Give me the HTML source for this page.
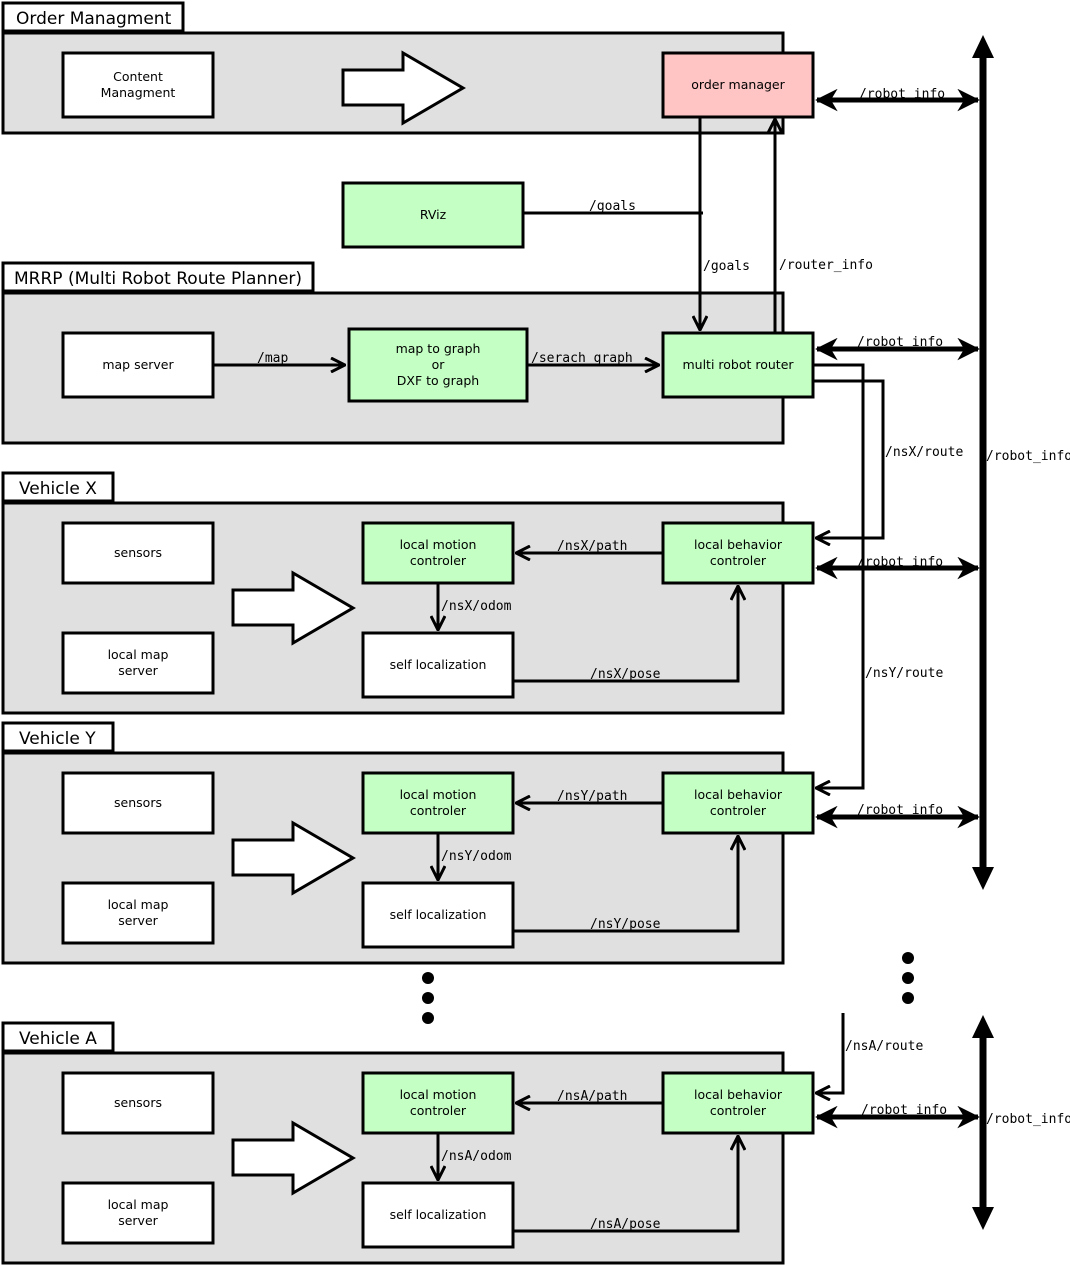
<!DOCTYPE html>
<html><head><style>body{margin:0;background:#fff}svg{display:block}
.n{font-family:"DejaVu Sans","Liberation Sans",sans-serif;font-size:12.5px;fill:#000}
.g{font-family:"DejaVu Sans","Liberation Sans",sans-serif;font-size:17px;fill:#000}
.m{font-family:"DejaVu Sans Mono","Liberation Mono",monospace;font-size:13px;fill:#000}
</style></head><body>
<svg width="1070" height="1266" viewBox="0 0 1070 1266" xmlns="http://www.w3.org/2000/svg">
<defs>
<marker id="a" viewBox="0 0 16 16" refX="15" refY="8" markerWidth="16" markerHeight="16" markerUnits="userSpaceOnUse" orient="auto-start-reverse"><path d="M1,1 L15,8 L1,15" fill="none" stroke="#000" stroke-width="3"/></marker>
<marker id="b" viewBox="0 0 6 6" refX="5.5" refY="3" markerWidth="4.5" markerHeight="4.5" orient="auto-start-reverse"><path d="M0,0 L6,3 L0,6 L1.8,3 Z" fill="#000"/></marker>
</defs>
<g stroke="#000" stroke-width="3">
<rect x="3" y="3" width="180" height="28" fill="#fff"/>
<rect x="3" y="33" width="780" height="100" fill="#e0e0e0"/>
<rect x="63" y="53" width="150" height="64" fill="#fff"/>
<polygon points="343,70 403,70 403,53 463,88 403,123 403,105 343,105" fill="#fff"/>
<rect x="663" y="53" width="150" height="64" fill="#ffc4c4"/>
<rect x="343" y="183" width="180" height="64" fill="#c4ffc4"/>
<rect x="3" y="263" width="310" height="28" fill="#fff"/>
<rect x="3" y="293" width="780" height="150" fill="#e0e0e0"/>
<rect x="63" y="333" width="150" height="64" fill="#fff"/>
<rect x="349" y="329" width="178" height="72" fill="#c4ffc4"/>
<rect x="663" y="333" width="150" height="64" fill="#c4ffc4"/>
</g>
<g stroke="#000" stroke-width="3" fill="none">
<line x1="700" y1="117" x2="700" y2="330" marker-end="url(#a)"/>
<line x1="523" y1="213" x2="703" y2="213"/>
<line x1="775" y1="333" x2="775" y2="119" marker-end="url(#a)"/>
<line x1="213" y1="365" x2="345" y2="365" marker-end="url(#a)"/>
<line x1="527" y1="365" x2="659" y2="365" marker-end="url(#a)"/>
<polyline points="813,381 883,381 883,538 816,538" marker-end="url(#a)"/>
<polyline points="813,365 863,365 863,788 816,788" marker-end="url(#a)"/>
<polyline points="843,1013 843,1093 816,1093" marker-end="url(#a)"/>
</g>
<g stroke="#000" stroke-width="5" fill="none">
<line x1="817" y1="100" x2="978" y2="100" marker-start="url(#b)" marker-end="url(#b)"/>
<line x1="817" y1="349" x2="978" y2="349" marker-start="url(#b)" marker-end="url(#b)"/>
<line x1="817" y1="568" x2="978" y2="568" marker-start="url(#b)" marker-end="url(#b)"/>
<line x1="817" y1="817" x2="978" y2="817" marker-start="url(#b)" marker-end="url(#b)"/>
<line x1="817" y1="1117" x2="978" y2="1117" marker-start="url(#b)" marker-end="url(#b)"/>
</g>
<g stroke="#000" stroke-width="7">
<line x1="983" y1="55" x2="983" y2="870"/>
<line x1="983" y1="1035" x2="983" y2="1210"/>
</g>
<g fill="#000">
<polygon points="983,35 972,58 994,58"/><polygon points="983,890 972,867 994,867"/>
<polygon points="983,1015 972,1038 994,1038"/><polygon points="983,1230 972,1207 994,1207"/>
<circle cx="428" cy="978" r="6"/><circle cx="428" cy="998" r="6"/><circle cx="428" cy="1018" r="6"/>
<circle cx="908" cy="958" r="6"/><circle cx="908" cy="978" r="6"/><circle cx="908" cy="998" r="6"/>
</g>
<text class="g" x="16" y="24">Order Managment</text>
<text class="g" x="14" y="284">MRRP (Multi Robot Route Planner)</text>
<text class="n" x="138" y="81" text-anchor="middle">Content</text>
<text class="n" x="138" y="97" text-anchor="middle">Managment</text>
<text class="n" x="738" y="89" text-anchor="middle">order manager</text>
<text class="n" x="433" y="219" text-anchor="middle">RViz</text>
<text class="n" x="138" y="369" text-anchor="middle">map server</text>
<text class="n" x="438" y="353" text-anchor="middle">map to graph</text>
<text class="n" x="438" y="369" text-anchor="middle">or</text>
<text class="n" x="438" y="385" text-anchor="middle">DXF to graph</text>
<text class="n" x="738" y="369" text-anchor="middle">multi robot router</text>
<text class="m" x="589" y="210">/goals</text>
<text class="m" x="703" y="270">/goals</text>
<text class="m" x="779" y="269">/router_info</text>
<text class="m" x="257" y="362">/map</text>
<text class="m" x="531" y="362">/serach graph</text>
<text class="m" x="885" y="456">/nsX/route</text>
<text class="m" x="865" y="677">/nsY/route</text>
<text class="m" x="845" y="1050">/nsA/route</text>
<text class="m" x="986" y="460">/robot_info</text>
<text class="m" x="986" y="1123">/robot_info</text>
<text class="m" x="859" y="98">/robot_info</text>
<text class="m" x="857" y="346">/robot_info</text>
<text class="m" x="857" y="566">/robot_info</text>
<text class="m" x="857" y="814">/robot_info</text>
<text class="m" x="861" y="1114">/robot_info</text>

<g id="vx">
<g stroke="#000" stroke-width="3">
<rect x="3" y="473" width="110" height="28" fill="#fff"/>
<rect x="3" y="503" width="780" height="210" fill="#e0e0e0"/>
<rect x="63" y="523" width="150" height="60" fill="#fff"/>
<rect x="63" y="633" width="150" height="60" fill="#fff"/>
<polygon points="233,590 293,590 293,573 353,608 293,643 293,625 233,625" fill="#fff"/>
<rect x="363" y="523" width="150" height="60" fill="#c4ffc4"/>
<rect x="363" y="633" width="150" height="64" fill="#fff"/>
<rect x="663" y="523" width="150" height="60" fill="#c4ffc4"/>
</g>
<g stroke="#000" stroke-width="3" fill="none">
<line x1="663" y1="553" x2="516" y2="553" marker-end="url(#a)"/>
<line x1="438" y1="583" x2="438" y2="630" marker-end="url(#a)"/>
<polyline points="513,681 738,681 738,586" marker-end="url(#a)"/>
</g>
<text class="n" x="138" y="557" text-anchor="middle">sensors</text>
<text class="n" x="138" y="659" text-anchor="middle">local map</text>
<text class="n" x="138" y="675" text-anchor="middle">server</text>
<text class="n" x="438" y="549" text-anchor="middle">local motion</text>
<text class="n" x="438" y="565" text-anchor="middle">controler</text>
<text class="n" x="438" y="669" text-anchor="middle">self localization</text>
<text class="n" x="738" y="549" text-anchor="middle">local behavior</text>
<text class="n" x="738" y="565" text-anchor="middle">controler</text>
</g>
<use href="#vx" transform="translate(0,250)"/>
<use href="#vx" transform="translate(0,550)"/>
<text class="g" x="19" y="494">Vehicle X</text>
<text class="g" x="19" y="744">Vehicle Y</text>
<text class="g" x="19" y="1044">Vehicle A</text>
<text class="m" x="557" y="550">/nsX/path</text>
<text class="m" x="441" y="610">/nsX/odom</text>
<text class="m" x="590" y="678">/nsX/pose</text>
<text class="m" x="557" y="800">/nsY/path</text>
<text class="m" x="441" y="860">/nsY/odom</text>
<text class="m" x="590" y="928">/nsY/pose</text>
<text class="m" x="557" y="1100">/nsA/path</text>
<text class="m" x="441" y="1160">/nsA/odom</text>
<text class="m" x="590" y="1228">/nsA/pose</text>
</svg>
</body></html>
